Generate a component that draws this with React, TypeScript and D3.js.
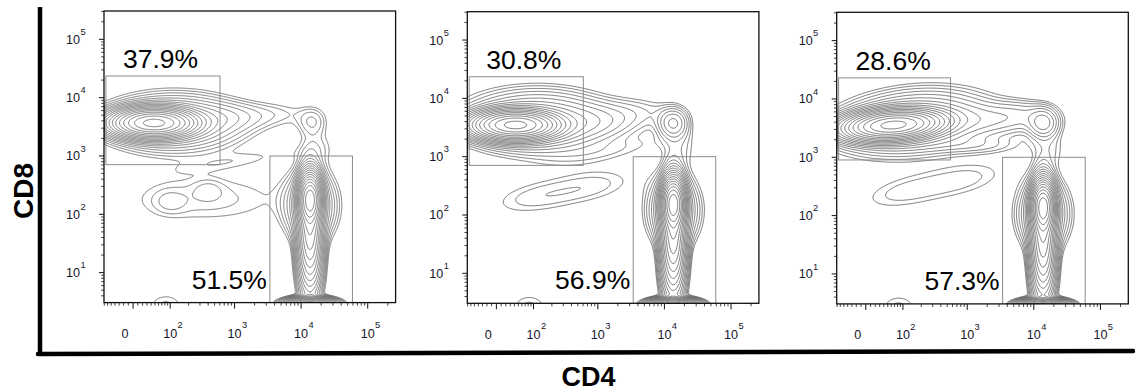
import React, { useMemo } from "react";
import * as d3 from "d3";

const W = 1135;
const H = 391;
const SIZE = 291.6;
const COF = 60;
const X_MIN = -71;
const X_MAX = 262144;
const Y_MIN = Math.pow(10, 0.486);
const Y_MAX = Math.pow(10, 5.486);
const T = (v: number) => Math.asinh(v / COF) / Math.LN10;

const panelLeft = [104, 467.3, 836.7];
const panelTop = [11, 11.7, 12.3];

const upperPct = ["37.9%", "30.8%", "28.6%"];
const lowerPct = ["51.5%", "56.9%", "57.3%"];

// gates: [cd4 min, cd4 max, cd8 min, cd8 max]
const cd8Gates = [
  [-65, 605, 710, 23500],
  [-65, 605, 710, 23500],
  [-65, 560, 900, 23000],
];
const cd4Gates = [
  [3400, 59000, 2.5, 1000],
  [3400, 59000, 2.5, 1000],
  [3400, 59000, 2.5, 1000],
];

// populations: [cd4, cd8, sd4 (decades), sd8 (decades), weight, tilt(deg)]
const pops1 = [
  [47, 3680, 0.3, 0.12, 1.0, 0],
  [116, 3680, 0.57, 0.27, 0.04, 0],
  [700, 4600, 0.37, 0.15, 0.008, 0],
  [3930, 5200, 0.42, 0.15, 0.0045, 0],
  [14600, 3830, 0.135, 0.155, 0.008, 0],
  [16500, 1350, 0.18, 0.24, 0.005, 0],
  [13600, 183, 0.083, 0.206, 1.0, 0],
  [13600, 63, 0.09, 0.43, 0.3, 0],
  [13600, 15.8, 0.105, 0.43, 0.05, 0],
  [13600, 139, 0.21, 0.34, 0.04, 0],
  [13600, 2.81, 0.18, 0.06, 0.5, 0],
  [99, 163, 0.165, 0.137, 0.004, 0],
  [400, 260, 0.15, 0.12, 0.004, 0],
  [347, 183, 0.9, 0.31, 0.0055, 0],
  [985, 820, 0.7, 0.1, 0.0035, -8],
  [84, 2.81, 0.21, 0.154, 0.005, 0],
];
const pops2 = [
  [42, 3490, 0.31, 0.12, 1.0, 0],
  [116, 3980, 0.6, 0.29, 0.045, 0],
  [830, 3980, 0.42, 0.17, 0.01, 0],
  [3930, 5900, 0.42, 0.17, 0.005, 0],
  [13600, 3730, 0.135, 0.155, 0.025, 0],
  [16500, 1350, 0.18, 0.24, 0.005, 0],
  [1390, 1220, 0.68, 0.12, 0.0035, -10],
  [100, 198, 0.48, 0.2, 0.0052, -9.6],
  [830, 318, 0.48, 0.2, 0.0052, -9.6],
  [13600, 158, 0.083, 0.206, 1.0, 0],
  [13600, 55, 0.09, 0.43, 0.3, 0],
  [13600, 13.8, 0.105, 0.43, 0.05, 0],
  [13600, 121, 0.21, 0.34, 0.04, 0],
  [13600, 2.81, 0.18, 0.06, 0.5, 0],
  [84, 2.81, 0.21, 0.154, 0.005, 0],
];
const pops3 = [
  [66, 3570, 0.35, 0.12, 1.0, -4],
  [141, 3980, 0.63, 0.29, 0.045, -6],
  [2330, 4310, 0.52, 0.17, 0.012, 0],
  [6600, 5900, 0.3, 0.15, 0.006, 0],
  [1390, 1610, 0.45, 0.1, 0.006, 0],
  [14000, 3850, 0.135, 0.155, 0.025, 0],
  [16500, 1350, 0.18, 0.24, 0.005, 0],
  [100, 251, 0.48, 0.2, 0.0052, -11.6],
  [900, 420, 0.48, 0.2, 0.0052, -11.6],
  [13800, 143, 0.083, 0.206, 1.0, 0],
  [13800, 49, 0.09, 0.43, 0.3, 0],
  [13800, 12.3, 0.105, 0.43, 0.05, 0],
  [13800, 108, 0.21, 0.34, 0.04, 0],
  [13800, 2.81, 0.18, 0.06, 0.5, 0],
  [84, 2.81, 0.21, 0.154, 0.005, 0],
];
const panelPops = [pops1, pops2, pops3];

const LEVEL_MAX = 0.9;
const LEVEL_RATIO = 0.72;
const LEVEL_COUNT = 18;

const yMajor = [10, 100, 1000, 10000, 100000];
const xMajor = [0, 100, 1000, 10000, 100000];
const xMajorLabels = ["0", "2", "3", "4", "5"];
const yMajorExp = ["1", "2", "3", "4", "5"];

const xs = d3.scaleLinear().domain([T(X_MIN), T(X_MAX)]).range([0, SIZE]);
const ys = d3.scaleLog().domain([Y_MIN, Y_MAX]).range([SIZE, 0]);
const xPos = (v: number) => xs(T(v));

const yMinor: number[] = [];
for (let d = 1; d <= 100000; d *= 10) {
  for (let m = 2; m <= 9; m++) {
    const v = m * d;
    if (v >= Y_MIN && v <= Y_MAX) yMinor.push(v);
  }
}
const xMinor: number[] = [];
for (let m = 1; m <= 7; m++) xMinor.push(-m * 10);
for (let d = 10; d <= 100000; d *= 10) {
  for (let m = d === 10 ? 1 : 2; m <= 9; m++) {
    const v = m * d;
    if (v <= X_MAX && v !== 100) xMinor.push(v);
  }
}

function buildContours(pops: number[][]) {
  const n = Math.ceil(SIZE);
  const vals = new Float64Array(n * n);
  const kx = xs(1) - xs(0);
  const ky = ys(1) - ys(10);
  for (const [cd4, cd8, sd4, sd8, wt, tilt] of pops) {
    const cx = xPos(cd4);
    const cy = ys(cd8);
    const sx = sd4 * kx;
    const sy = sd8 * ky;
    const a = (tilt * Math.PI) / 180;
    const ca = Math.cos(a);
    const sa = Math.sin(a);
    const R = 4.5 * Math.max(sx, sy);
    const i0 = Math.max(0, Math.floor(cx - R));
    const i1 = Math.min(n - 1, Math.ceil(cx + R));
    const j0 = Math.max(0, Math.floor(cy - R));
    const j1 = Math.min(n - 1, Math.ceil(cy + R));
    for (let j = j0; j <= j1; j++) {
      for (let i = i0; i <= i1; i++) {
        const dx = i + 0.5 - cx;
        const dy = j + 0.5 - cy;
        const u = dx * ca + dy * sa;
        const v = -dx * sa + dy * ca;
        vals[j * n + i] += wt * Math.exp(-0.5 * ((u * u) / (sx * sx) + (v * v) / (sy * sy)));
      }
    }
  }
  const levels = d3.range(LEVEL_COUNT).map((k) => LEVEL_MAX * Math.pow(LEVEL_RATIO, k));
  const gen = d3.contours().size([n, n]).thresholds(levels);
  const path = d3.geoPath();
  return gen(Array.from(vals)).map((c) => path(c) || "");
}

const FONT = "'Liberation Sans', Arial, Helvetica, sans-serif";

function Panel({ idx }: { idx: number }) {
  const left = panelLeft[idx];
  const top = panelTop[idx];
  const paths = useMemo(() => buildContours(panelPops[idx]), [idx]);
  const g1 = cd8Gates[idx];
  const g2 = cd4Gates[idx];
  const clipId = `clip${idx}`;
  return (
    <g transform={`translate(${left},${top})`}>
      <defs>
        <clipPath id={clipId}>
          <rect x={0} y={0} width={SIZE} height={SIZE} />
        </clipPath>
      </defs>
      <g clipPath={`url(#${clipId})`}>
        {paths.map((d, i) => (
          <path key={i} d={d} fill="none" stroke="#5a5a5a" strokeWidth={0.8} />
        ))}
        <rect
          x={xPos(g1[0])}
          y={ys(g1[3])}
          width={xPos(g1[1]) - xPos(g1[0])}
          height={ys(g1[2]) - ys(g1[3])}
          fill="none"
          stroke="#8c8c8c"
          strokeWidth={1}
        />
        <rect
          x={xPos(g2[0])}
          y={ys(g2[3])}
          width={xPos(g2[1]) - xPos(g2[0])}
          height={ys(g2[2]) - ys(g2[3])}
          fill="none"
          stroke="#8c8c8c"
          strokeWidth={1}
        />
      </g>
      <rect x={0} y={0} width={SIZE} height={SIZE} fill="none" stroke="#111" strokeWidth={1.3} />
      {yMajor.map((v) => (
        <line key={`ym${v}`} x1={-5} x2={0} y1={ys(v)} y2={ys(v)} stroke="#111" strokeWidth={1} />
      ))}
      {yMinor.map((v) => (
        <line key={`yn${v}`} x1={-2.8} x2={0} y1={ys(v)} y2={ys(v)} stroke="#111" strokeWidth={0.8} />
      ))}
      {yMajor.map((v, i) => (
        <g key={`yl${v}`} fontFamily={FONT} fill="#15152a">
          <text x={-38} y={ys(v) + 4.5} fontSize={12.6}>
            10
          </text>
          <text x={-23.6} y={ys(v) - 4.2} fontSize={9.3}>
            {yMajorExp[i]}
          </text>
        </g>
      ))}
      {xMajor.map((v) => (
        <line key={`xm${v}`} x1={xPos(v)} x2={xPos(v)} y1={SIZE} y2={SIZE + 6} stroke="#111" strokeWidth={1} />
      ))}
      {xMinor.map((v) => (
        <line key={`xn${v}`} x1={xPos(v)} x2={xPos(v)} y1={SIZE} y2={SIZE + 3} stroke="#111" strokeWidth={0.8} />
      ))}
      {xMajor.map((v, i) =>
        i === 0 ? (
          <text key={`xl${v}`} x={xPos(v) - 8} y={SIZE + 35.5} fontSize={12.6} fontFamily={FONT} fill="#15152a" textAnchor="middle">
            0
          </text>
        ) : (
          <g key={`xl${v}`} fontFamily={FONT} fill="#15152a">
            <text x={xPos(v)} y={SIZE + 35.5} fontSize={12.6} textAnchor="middle">
              10
            </text>
            <text x={xPos(v) + 7.4} y={SIZE + 25.8} fontSize={9.3}>
              {xMajorLabels[i]}
            </text>
          </g>
        )
      )}
      <text x={xPos(g1[0]) + 17} y={ys(g1[3]) - 8} fontSize={26.5} fontFamily={FONT} fill="#000">
        {upperPct[idx]}
      </text>
      <text x={xPos(g2[0]) - 3} y={SIZE - 14} fontSize={26.5} fontFamily={FONT} fill="#000" textAnchor="end">
        {lowerPct[idx]}
      </text>
    </g>
  );
}

export default function App() {
  return (
    <svg
      width={W}
      height={H}
      viewBox={`0 0 ${W} ${H}`}
      style={{ position: "absolute", left: 0, top: 0, background: "#fff" }}
    >
      <rect x={0} y={0} width={W} height={H} fill="#fff" />
      {[0, 1, 2].map((i) => (
        <Panel key={i} idx={i} />
      ))}
      <line x1={40} y1={7} x2={40} y2={354} stroke="#000" strokeWidth={4.5} />
      <line x1={38} y1={354} x2={1133} y2={351} stroke="#000" strokeWidth={4.5} strokeLinecap="round" />
      <text
        transform="translate(33,191) rotate(-90)"
        textAnchor="middle"
        fontSize={28}
        fontWeight="bold"
        fontFamily={FONT}
      >
        CD8
      </text>
      <text x={588.5} y={385.5} textAnchor="middle" fontSize={27} fontWeight="bold" fontFamily={FONT}>
        CD4
      </text>
    </svg>
  );
}
